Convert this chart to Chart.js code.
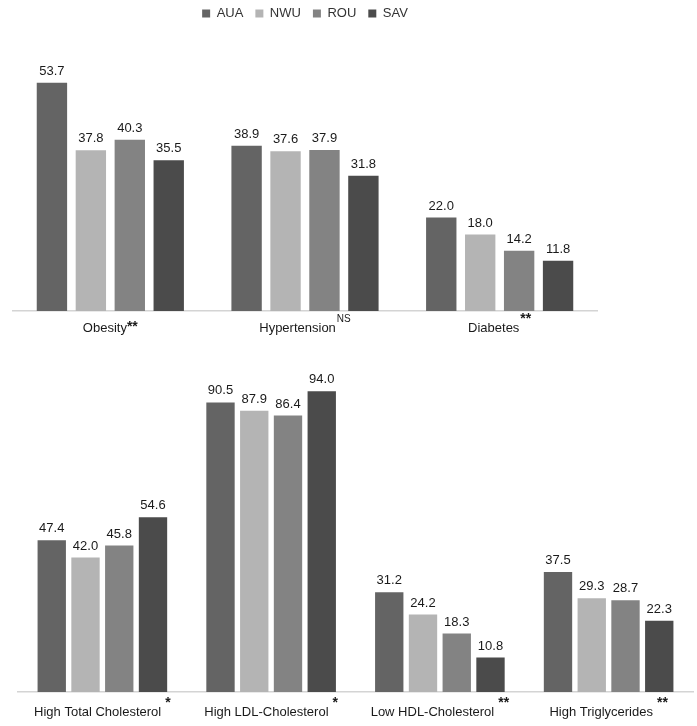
<!DOCTYPE html>
<html>
<head>
<meta charset="utf-8">
<script src="https://cdn.jsdelivr.net/npm/chart.js@4.4.0/dist/chart.umd.min.js"></script>
<style>
body { margin: 0; background: #fff; }
canvas { position: absolute; left: 0; }
#top { top: 0; }
#bottom { top: 345px; }
</style>
</head>
<body>
<canvas id="top" width="697" height="345"></canvas>
<canvas id="bottom" width="697" height="381"></canvas>
<script>
var seriesNames = ['AUA', 'NWU', 'ROU', 'SAV'];
var seriesColors = ['#646464', '#b4b4b4', '#838383', '#4b4b4b'];

var topCategories = ['Obesity', 'Hypertension', 'Diabetes'];
var topMarks = ['**', 'NS', '**'];
var topRaised = [false, true, true];
var topAUA = [53.7, 38.9, 22.0];
var topNWU = [37.8, 37.6, 18.0];
var topROU = [40.3, 37.9, 14.2];
var topSAV = [35.5, 31.8, 11.8];

var bottomCategories = ['High Total Cholesterol', 'High LDL-Cholesterol', 'Low HDL-Cholesterol', 'High Triglycerides'];
var bottomMarks = ['*', '*', '**', '**'];
var bottomRaised = [true, true, true, true];
var bottomAUA = [47.4, 90.5, 31.2, 37.5];
var bottomNWU = [42.0, 87.9, 24.2, 29.3];
var bottomROU = [45.8, 86.4, 18.3, 28.7];
var bottomSAV = [54.6, 94.0, 10.8, 22.3];

var FONT = '"Liberation Sans", Arial, sans-serif';

// value labels above bars + category labels with superscript marks
var labelPlugin = {
	id: 'labels',
	afterDatasetsDraw: function(chart) {
		var ctx = chart.ctx;
		var o = chart.options.plugins.labels;
		ctx.save();
		ctx.fillStyle = '#1a1a1a';
		ctx.textAlign = 'center';
		ctx.textBaseline = 'bottom';
		ctx.font = '13px ' + FONT;
		chart.data.datasets.forEach(function(ds, i) {
			chart.getDatasetMeta(i).data.forEach(function(bar, j) {
				ctx.fillText(ds.data[j].toFixed(1), bar.x, bar.y - 5);
			});
		});

		var x = chart.scales.x;
		var y = chart.chartArea.bottom + o.offset;
		ctx.textAlign = 'left';
		ctx.textBaseline = 'middle';
		chart.data.labels.forEach(function(lab, j) {
			var mark = o.marks[j];
			var letters = /[A-Z]/.test(mark);
			var markFont = (letters ? '10px ' : 'bold 14px ') + FONT;
			var rise = o.raised[j] ? 9 : 1;
			var gap = o.raised[j] ? o.gap : 0;
			ctx.font = '13px ' + FONT;
			var w1 = ctx.measureText(lab).width;
			ctx.font = markFont;
			var w2 = ctx.measureText(mark).width;
			var start = x.getPixelForValue(j) - (w1 + gap + w2) / 2;
			ctx.font = '13px ' + FONT;
			ctx.fillText(lab, start, y);
			ctx.font = markFont;
			ctx.fillText(mark, start + w1 + gap, y - rise);
		});
		ctx.restore();
	}
};

// extra room under the legend
var legendSpace = {
	id: 'legendSpace',
	beforeInit: function(chart) {
		var extra = chart.options.plugins.legendSpace.extra;
		if (!chart.legend || !extra) return;
		var fit = chart.legend.fit;
		chart.legend.fit = function() {
			fit.bind(chart.legend)();
			this.height += extra;
		};
	}
};

function makeChart(id, cats, marks, raised, values, yMax, opt) {
	var datasets = [];
	for (var i in seriesNames) {
		datasets.push({
			label: seriesNames[i],
			data: values[i],
			backgroundColor: seriesColors[i],
			categoryPercentage: opt.cat,
			barPercentage: opt.bar
		});
	}
	return new Chart(document.getElementById(id), {
		type: 'bar',
		data: { labels: cats, datasets: datasets },
		plugins: [legendSpace, labelPlugin],
		options: {
			responsive: false,
			animation: false,
			layout: { padding: opt.padding },
			scales: {
				x: {
					grid: { display: false, drawTicks: false },
					border: { display: true, color: '#d4d4d4', width: 1.5 },
					ticks: { display: false }
				},
				y: { display: false, min: 0, max: yMax }
			},
			plugins: {
				tooltip: { enabled: false },
				legend: {
					display: opt.legend,
					labels: {
						boxWidth: 8,
						boxHeight: 8,
						padding: 12,
						color: '#333',
						font: { family: FONT, size: 13 }
					}
				},
				legendSpace: { extra: opt.extra },
				labels: { marks: marks, raised: raised, offset: opt.offset, gap: opt.gap }
			}
		}
	});
}

makeChart('top', topCategories, topMarks, topRaised,
	[topAUA, topNWU, topROU, topSAV], 60,
	{ cat: 0.8, bar: 0.78, legend: true, offset: 17, gap: 1, extra: 26,
	  padding: { left: 13, right: 100, top: -5, bottom: 34 } });

makeChart('bottom', bottomCategories, bottomMarks, bottomRaised,
	[bottomAUA, bottomNWU, bottomROU, bottomSAV], 100,
	{ cat: 0.8, bar: 0.84, legend: false, offset: 20, gap: 4, extra: 0,
	  padding: { left: 18, right: 4, top: 27, bottom: 34 } });
</script>
</body>
</html>
